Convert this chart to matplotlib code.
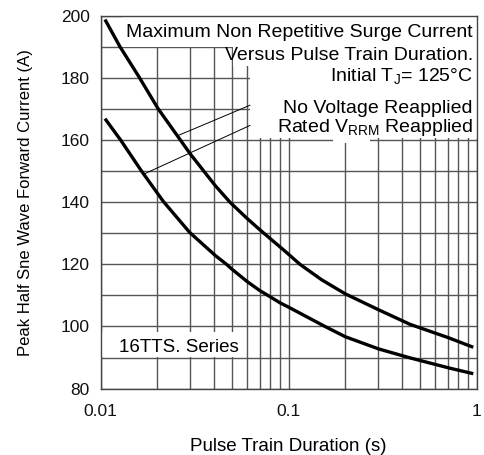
import matplotlib.pyplot as plt
from matplotlib.patches import Rectangle
from matplotlib.ticker import FixedLocator, NullFormatter

plt.rcParams["font.family"] = ["Liberation Sans", "DejaVu Sans"]
plt.rcParams["mathtext.fontset"] = "custom"
plt.rcParams["mathtext.rm"] = "Liberation Sans"

# pulse train duration (s) and peak current (A)
NO_VOLT_T = [0.01054, 0.01268, 0.0160, 0.0202, 0.0299, 0.0406, 0.0487, 0.06,
             0.07, 0.08, 0.09, 0.1, 0.1148, 0.15, 0.2, 0.3, 0.4415, 0.706, 0.959]
NO_VOLT_I = [198.8, 190.0, 180.3, 170.1, 155.6, 145.4, 140.0, 134.8,
             131.2, 128.2, 125.6, 123.2, 120.0, 115.0, 110.5, 105.4, 100.7, 96.4, 93.3]

RATED_T = [0.01054, 0.01277, 0.0165, 0.0215, 0.0297, 0.0406, 0.0467,
           0.05, 0.06, 0.07, 0.0795, 0.09, 0.1, 0.156, 0.2, 0.3, 0.4415,
           0.706, 0.959]
RATED_I = [166.9, 160.0, 150.0, 140.3, 130.3, 122.9, 120.0,
           118.4, 114.5, 111.6, 109.6, 107.6, 106.2, 100.0, 96.7, 92.8, 89.9,
           86.7, 84.8]

X_TICKS = [0.01, 0.1, 1]
X_TICK_LABELS = ["0.01", "0.1", "1"]
Y_TICKS = [80, 100, 120, 140, 160, 180, 200]

fig = plt.figure(figsize=(4.85, 4.55), dpi=100)
ax = fig.add_axes([0.2076, 0.1459, 0.7753, 0.8194])

ax.set_xscale("log")
ax.set_xlim(0.01, 1)
ax.set_ylim(80, 200)

# grid: every 10 A, and 1..9 within each decade
minor_x = [m * d for d in (0.01, 0.1) for m in range(2, 10)]
ax.xaxis.set_minor_locator(FixedLocator(minor_x))
ax.xaxis.set_minor_formatter(NullFormatter())
ax.set_xticks(X_TICKS)
ax.set_xticklabels(X_TICK_LABELS)
ax.set_yticks(Y_TICKS)
ax.yaxis.set_minor_locator(FixedLocator(range(90, 200, 20)))
ax.grid(True, which="both", color="#555555", linewidth=1.0)
ax.set_axisbelow(True)
ax.tick_params(which="both", length=0, labelsize=12.5, colors="#111111")
ax.tick_params(axis="x", pad=11)
ax.tick_params(axis="y", pad=8)
for s in ax.spines.values():
    s.set_color("#444444")
    s.set_linewidth(1.0)

# white panels behind the annotation text (blank out the grid there)
for x0, y0, w, h in [(0.0566, 0.915, 0.944, 0.085),
                     (0.352, 0.865, 0.648, 0.07),
                     (0.397, 0.672, 0.603, 0.21),
                     (0.619, 0.659, 0.098, 0.02),
                     (0.002, 0.085, 0.382, 0.068)]:
    ax.add_patch(Rectangle((x0, y0), w, h, transform=ax.transAxes,
                           facecolor="white", edgecolor="none", zorder=1))

ax.plot(NO_VOLT_T, NO_VOLT_I, color="black", linewidth=2.4, zorder=3,
        solid_capstyle="butt")
ax.plot(RATED_T, RATED_I, color="black", linewidth=2.4, zorder=3,
        solid_capstyle="butt")

tx = 0.990
fs = 14
labels = [
    (0.942, "Maximum Non Repetitive Surge Current"),
    (0.881, "Versus Pulse Train Duration."),
    (0.823, "Initial T$_\\mathrm{J}$= 125°C"),
    (0.738, "No Voltage Reapplied"),
    (0.689, "Rated V$_\\mathrm{RRM}$ Reapplied"),
]
for ty, s in labels:
    ax.text(tx, ty, s, transform=ax.transAxes, ha="right", va="baseline",
            fontsize=fs, zorder=4)
ax.text(0.05, 0.099, "16TTS. Series", transform=ax.transAxes,
        ha="left", va="baseline", fontsize=13.5, zorder=4)

# leader lines from labels to curves
ax.plot([0.0259, 0.0622], [161.5, 171.2], color="black", linewidth=0.7, zorder=3)
ax.plot([0.0172, 0.0622], [149.2, 164.7], color="black", linewidth=0.7, zorder=3)

ax.set_xlabel("Pulse Train Duration (s)", fontsize=13.5, labelpad=14)
ax.set_ylabel("Peak Half Sne Wave Forward Current (A)", fontsize=12, labelpad=20)

fig.savefig("out.png", dpi=100)
